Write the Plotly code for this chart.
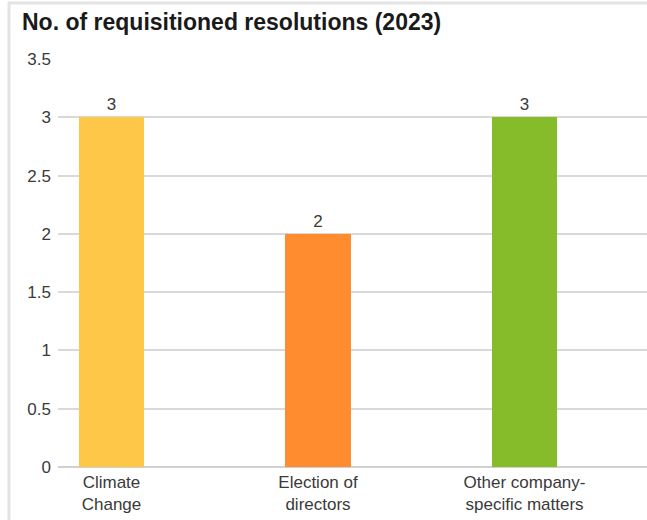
import plotly.graph_objects as go

categories = ["Climate<br>Change", "Election of<br>directors", "Other company-<br>specific matters"]
values = [3, 2, 3]
colors = ["#FFC747", "#FF8C2E", "#86BC29"]
y_ticks = [0, 0.5, 1, 1.5, 2, 2.5, 3, 3.5]
y_ticktext = ["0", "0.5", "1", "1.5", "2", "2.5", "3", "3.5"]

W, H = 647, 520
L, R, T, B = 58, 0, 59, 53
pw, ph = W - L - R, H - T - B

def px_x(px):
    return (px - L) / pw

def px_y(py):
    return (H - B - py) / ph

positions = list(range(len(categories)))
FONT = "Liberation Sans, Arial, Helvetica"

fig = go.Figure()
fig.add_trace(go.Bar(
    x=positions, y=values, width=0.315,
    marker=dict(color=colors, line=dict(width=0)),
    text=[str(v) for v in values], textposition="outside",
    textfont=dict(family=FONT, size=17, color="#3a3a3a"),
    cliponaxis=False,
))

fig.update_layout(
    width=W, height=H,
    margin=dict(l=L, r=R, t=T, b=B),
    paper_bgcolor="white", plot_bgcolor="white",
    showlegend=False,
    title=dict(text="<b>No. of requisitioned resolutions (2023)</b>",
               font=dict(family=FONT, size=23, color="#1a1a1a"),
               xref="container", yref="container", x=22 / W, xanchor="left",
               y=1 - 22 / H, yanchor="middle"),
    xaxis=dict(range=[-0.259, 2.593], tickvals=positions, ticktext=categories,
               showgrid=False, zeroline=False, showline=False, ticks="",
               ticklabelstandoff=3,
               tickfont=dict(family=FONT, size=17, color="#3a3a3a")),
    yaxis=dict(range=[0, 3.5], tickvals=y_ticks, ticktext=y_ticktext,
               showgrid=True, gridcolor="#d9d9d9", gridwidth=1.5,
               zeroline=True, zerolinecolor="#d0d0d0", zerolinewidth=2,
               showline=False, ticks="", ticklabelstandoff=6,
               tickfont=dict(family=FONT, size=17, color="#3a3a3a")),
    bargap=0,
)

fig.add_shape(type="line", xref="paper", yref="paper",
              x0=px_x(9), x1=px_x(9), y0=px_y(2), y1=px_y(H + 5),
              line=dict(color="#e3e3e3", width=3))
fig.add_shape(type="line", xref="paper", yref="paper",
              x0=px_x(8), x1=px_x(W + 5), y0=px_y(3), y1=px_y(3),
              line=dict(color="#e3e3e3", width=3))

fig.write_html("out.html")
